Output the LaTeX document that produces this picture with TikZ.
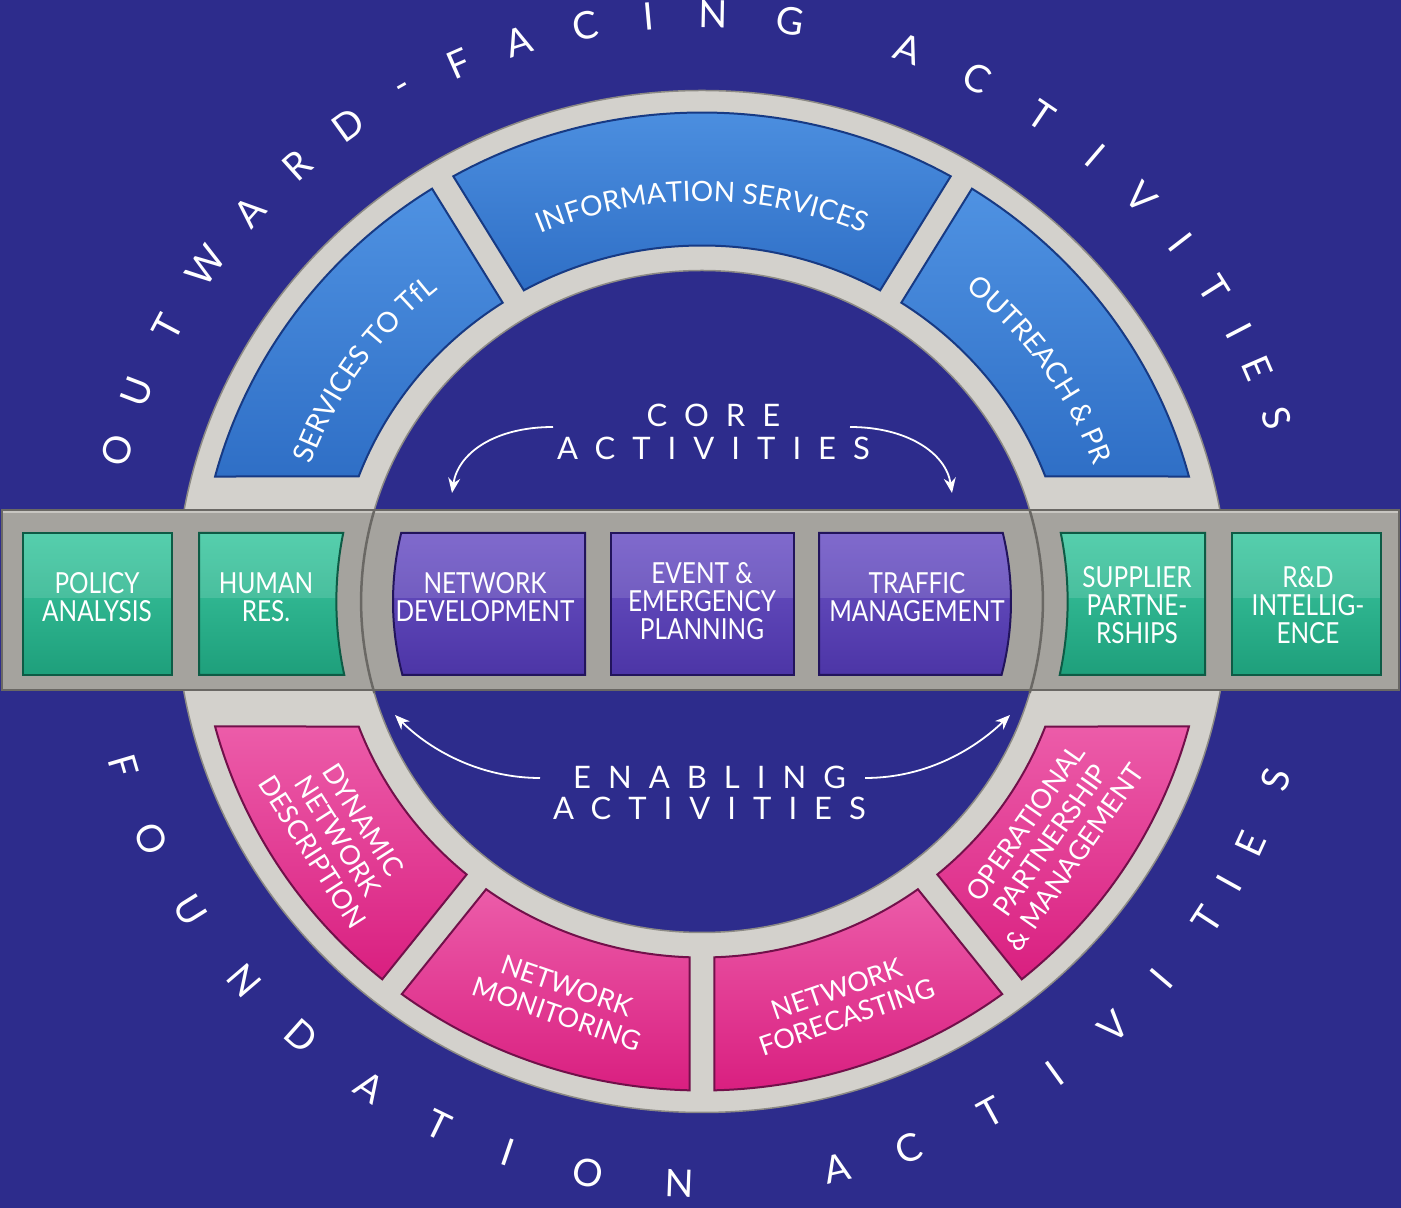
\documentclass[tikz,border=0pt]{standalone}
\usepackage{fontspec}
\setmainfont{Lato}
\newfontfamily\condfont[FakeStretch=0.84]{Lato}
\newfontfamily\spacedfont[LetterSpace=55]{Lato}
\usetikzlibrary{arrows.meta,decorations.text,calc}
\definecolor{bg}{HTML}{2D2C8C}
\definecolor{ringgray}{HTML}{D3D1CC}
\definecolor{ringedge}{HTML}{8C8A85}
\definecolor{bandgray}{HTML}{A5A39E}
\definecolor{bandedge}{HTML}{6A6864}
\definecolor{bandlight}{HTML}{C8C6C1}
\definecolor{bluetop}{HTML}{4F92E2}
\definecolor{bluebot}{HTML}{2F6FC6}
\definecolor{blueedge}{HTML}{173A84}
\definecolor{greentop}{HTML}{3DC8A1}
\definecolor{greenbot}{HTML}{1E9F7B}
\definecolor{greenedge}{HTML}{0D5B45}
\definecolor{purptop}{HTML}{6D54C6}
\definecolor{purpbot}{HTML}{4C35A6}
\definecolor{purpedge}{HTML}{22145C}
\definecolor{pinktop}{HTML}{EC5CA9}
\definecolor{pinkbot}{HTML}{D91F80}
\definecolor{pinkedge}{HTML}{72104A}
\newcommand\ringbox[5]{%
  \path[#5] ([shift={(C)}]#1:503.67pt and 489pt)
    arc[start angle=#1, end angle=#2, x radius=503.67pt, y radius=489pt]
    -- ([shift={(C)}]#4:366.68pt and 356pt)
    arc[start angle=#4, end angle=#3, x radius=366.68pt, y radius=356pt] -- cycle;}
\tikzset{
  gloss/.style={path picture={\fill[white,opacity=0.13] (path picture bounding box.north west) rectangle ([yshift=6pt]path picture bounding box.east);}},
  greenbox/.style={draw=greenedge, line width=2pt, top color=greentop, bottom color=greenbot, gloss},
  purpbox/.style={draw=purpedge, line width=2pt, top color=purptop, bottom color=purpbot, gloss},
  blueseg/.style={draw=blueedge, line width=2pt, top color=bluetop, bottom color=bluebot},
  pinkseg/.style={draw=pinkedge, line width=2pt, top color=pinktop, bottom color=pinkbot},
  bandtxt/.style={text=white, align=center, inner sep=0pt, font=\condfont\fontsize{29}{28}\selectfont},
  ringtxt/.style={text=white, align=center, inner sep=0pt, font=\fontsize{27}{30}\selectfont},
  outerletter/.style={text=white, inner sep=0pt, font=\fontsize{38}{38}\selectfont},
  midtxt/.style={text=white, inner sep=0pt, font=\spacedfont\fontsize{31}{33}\selectfont},
  flow/.style={white, line width=1.8pt, -{Stealth[length=15pt,width=12pt]}},
  sepline/.style={bandedge, line width=2.5pt}
}
\begin{document}
\begin{tikzpicture}[x=1pt,y=1pt]
\path[use as bounding box, fill=bg] (0,0) rectangle (1401,1208);
\coordinate (C) at (702,606.5);
% ring
\path[fill=ringgray, even odd rule, draw=ringedge, line width=1.5pt]
  (C) ellipse [x radius=526.3pt, y radius=511pt]
  (C) ellipse [x radius=340.9pt, y radius=331pt];
% top segments
\ringbox{122.41}{165.19}{122.93}{159.44}{blueseg}
\ringbox{60.41}{119.59}{60.93}{119.07}{blueseg}
\ringbox{14.81}{57.59}{20.56}{57.07}{blueseg}
% bottom segments
\ringbox{194.81}{230.59}{200.56}{230.07}{pinkseg}
\ringbox{233.41}{268.59}{233.93}{268.07}{pinkseg}
\ringbox{271.41}{306.59}{271.93}{306.07}{pinkseg}
\ringbox{309.41}{345.19}{309.93}{339.44}{pinkseg}
% band
\fill[bandgray] (2,518) rectangle (1399,698);
\draw[bandlight, line width=2.5pt] (2,696) -- (1399,696);
\draw[bandedge, line width=1.5pt] (2,518) rectangle (1399,698);
\draw[sepline] ([shift={(C)}]163.95:340.93pt and 331pt) arc[start angle=163.95, end angle=196.05, x radius=340.93pt, y radius=331pt];
\draw[sepline] ([shift={(C)}]-16.05:340.93pt and 331pt) arc[start angle=-16.05, end angle=16.05, x radius=340.93pt, y radius=331pt];
% band boxes
\path[greenbox] (23,533) rectangle (172,675);
\path[greenbox] (199,533) -- (199,675) -- ([shift={(C)}]168.87:365.65pt and 355pt) arc[start angle=168.87, end angle=191.95, x radius=365.65pt, y radius=355pt] -- cycle;
\path[purpbox] (585,533) -- (585,675) -- ([shift={(C)}]166.8:309pt and 300pt) arc[start angle=166.8, end angle=194.18, x radius=309pt, y radius=300pt] -- cycle;
\path[purpbox] (611,533) rectangle (794,675);
\path[purpbox] (819,533) -- ([shift={(C)}]-14.18:309pt and 300pt) arc[start angle=-14.18, end angle=13.2, x radius=309pt, y radius=300pt] -- (819,675) -- cycle;
\path[greenbox] (1205,533) -- (1205,675) -- ([shift={(C)}]11.13:365.65pt and 355pt) arc[start angle=11.13, end angle=-11.95, x radius=365.65pt, y radius=355pt] -- cycle;
\path[greenbox] (1232,533) rectangle (1381,675);
% band texts
\node[bandtxt] (policy) at (97,611) {POLICY\\ANALYSIS};
\node[bandtxt] (human) at (266,611) {HUMAN\\RES.};
\node[bandtxt] (netdev) at (485,611) {NETWORK\\DEVELOPMENT};
\node[bandtxt] (event) at (702,607) {EVENT \&\\EMERGENCY\\PLANNING};
\node[bandtxt] (traffic) at (917,611) {TRAFFIC\\MANAGEMENT};
\node[bandtxt] (supplier) at (1137,603) {SUPPLIER\\PARTNE-\\RSHIPS};
\node[bandtxt] (rnd) at (1308,603) {R\&D\\INTELLIG-\\ENCE};
% ring segment texts (top)
\path[decorate, decoration={text along path, text color=white, text align=center,
  text={|\fontsize{28}{28}\selectfont|SERVICES TO TfL}}]
  ([shift={(C)}]180:416pt and 404pt) arc[start angle=180, end angle=110, x radius=416pt, y radius=404pt];
\path[decorate, decoration={text along path, text color=white, text align=center,
  text={|\fontsize{28}{28}\selectfont|INFORMATION SERVICES}}]
  ([shift={(C)}]135:412pt and 400pt) arc[start angle=135, end angle=45, x radius=412pt, y radius=400pt];
\path[decorate, decoration={text along path, text color=white, text align=center,
  text={|\fontsize{28}{28}\selectfont|OUTREACH {\&} PR}}]
  ([shift={(C)}]70:416pt and 404pt) arc[start angle=70, end angle=0, x radius=416pt, y radius=404pt];
% ring segment texts (bottom)
\node[ringtxt, rotate=-57.5] (dyn) at (338,372) {DYNAMIC\\NETWORK\\DESCRIPTION};
\node[ringtxt, rotate=-19] (mon) at (562,208) {NETWORK\\MONITORING};
\node[ringtxt, rotate=19] (fore) at (842,205) {NETWORK\\FORECASTING};
\node[ringtxt, rotate=55] (oper) at (1050,368) {OPERATIONAL\\PARTNERSHIP\\\& MANAGEMENT};
% middle texts
\node[midtxt] (core) at (705,793) {CORE\kern-0.55em};
\node[midtxt] (coreact) at (705,760) {ACTIVITIES\kern-0.55em};
\node[midtxt] (enab) at (701,431) {ENABLING\kern-0.55em};
\node[midtxt] (enabact) at (701,400) {ACTIVITIES\kern-0.55em};
% arrows
\coordinate (cl0) at (553,781); \coordinate (cl1) at (452,715);
\coordinate (cr0) at (850,781); \coordinate (cr1) at (952,715);
\coordinate (el0) at (540,430); \coordinate (el1) at (395,493);
\coordinate (er0) at (865,430); \coordinate (er1) at (1010,493);
\draw[flow] (cl0) .. controls (495,781) and (458,755) .. (cl1);
\draw[flow] (cr0) .. controls (907,781) and (946,755) .. (cr1);
\draw[flow] (el0) .. controls (480,430) and (430,458) .. (el1);
\draw[flow] (er0) .. controls (930,430) and (978,462) .. (er1);
% outer letters
\foreach \ch/\ang [count=\i] in {O/165.1,U/159.1,T/152.1,W/145.1,A/138.4,R/132.0,D/125.8,-/119.5,F/113.7,A/107.6,C/101.1,I/95.1,N/88.9,G/81.6,A/70.1,C/63.0,T/55.9,I/49.5,V/43.5,I/37.7,T/32.2,I/27.4,E/23.4,S/18.2}
  \node[outerletter, rotate=\ang-90] (top\i) at ([shift={(C)}]\ang:605pt and 587pt) {\ch};
\foreach \ch/\ang [count=\i] in {F/196.4,O/204.1,U/212.0,N/220.6,D/228.3,A/236.6,T/244.1,I/251.2,O/259.1,N/267.9,A/282.9,C/290.1,T/298.6,I/305.8,V/313.1,I/319.6,T/326.9,I/331.0,E/335.4,S/342.2}
  \node[outerletter, rotate=\ang+90] (bot\i) at ([shift={(C)}]\ang:603pt and 582pt) {\ch};
\end{tikzpicture}
\end{document}
